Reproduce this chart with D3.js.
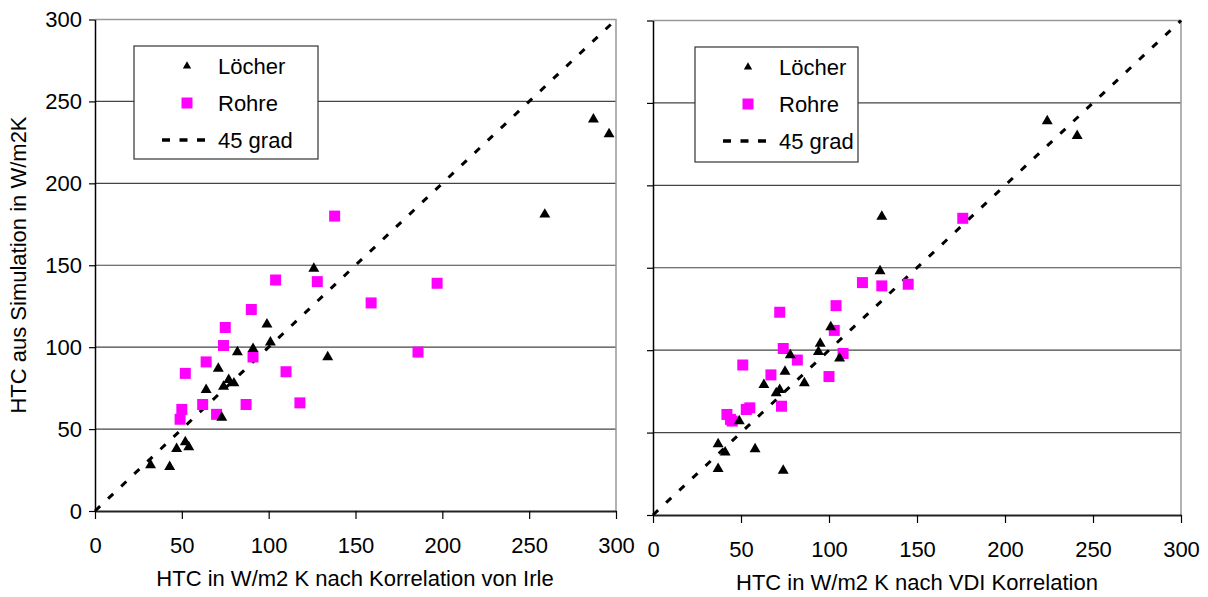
<!DOCTYPE html>
<html>
<head>
<meta charset="utf-8">
<script src="https://cdn.jsdelivr.net/npm/d3@7"></script>
<style>
  body { margin: 0; background: #fff; }
  svg { display: block; }
  text { font-family: "Liberation Sans", Arial, sans-serif; fill: #000; }
</style>
</head>
<body>
<div class="chart-wrapper"></div>
<script>
// values: [x, y]
const irleLoecher = [
  [126, 148], [99, 114], [101, 103], [82, 97], [91, 99], [134, 94],
  [71, 87], [77, 80], [80, 78], [74, 76], [64, 74], [73, 57],
  [52, 42], [54, 39], [47, 38], [32, 28], [43, 27],
  [259, 181], [287, 239], [296, 230]
]
const irleRohre = [
  [138, 180], [104, 141], [128, 140], [159, 127], [90, 123], [75, 112],
  [74, 101], [91, 94], [64, 91], [52, 84], [110, 85], [62, 65],
  [87, 65], [118, 66], [70, 59], [50, 62], [49, 56], [197, 139], [186, 97]
]
const vdiLoecher = [
  [130, 181], [129, 148], [101, 114], [95, 104], [94, 99], [78, 97],
  [106, 95], [75, 87], [63, 79], [86, 80], [72, 76], [70, 74],
  [49, 57], [37, 43], [41, 38], [58, 40], [37, 28], [74, 27],
  [224, 239], [241, 230]
]
const vdiRohre = [
  [119, 141], [130, 139], [145, 140], [104, 127], [72, 123], [103, 112],
  [74, 101], [108, 98], [82, 94], [51, 91], [67, 85], [100, 84],
  [73, 66], [55, 65], [53, 64], [42, 61], [45, 57], [176, 180], [44, 58]
]
const ticks = [0, 50, 100, 150, 200, 250, 300]
const legendItems = ['Löcher', 'Rohre', '45 grad']

var width = 1208,
    height = 597,
    fontSize = 22;

var svg = d3.select('.chart-wrapper')
  .append('svg')
  .attr('width', width)
  .attr('height', height)

const triangle = d3.symbol(d3.symbolTriangle, 52)
const square = d3.symbol(d3.symbolSquare, 121)

const drawPanel = (p) => {

  const x = d3.scaleLinear().domain([0, 300]).range([p.left, p.right])
  const y = d3.scaleLinear().domain([0, 300]).range([p.bottom, p.top])

  const g = svg.append('g')

  // horizontal grid
  g.selectAll('.grid')
    .data(ticks.slice(1, -1))
    .enter()
    .append('line')
    .attr('x1', p.left).attr('x2', p.right)
    .attr('y1', d => y(d)).attr('y2', d => y(d))
    .attr('stroke', '#444')
    .attr('stroke-width', 1.2)

  // grey frame top / right
  g.append('path')
    .attr('d', `M${p.left},${p.top}H${p.right}V${p.bottom}`)
    .attr('fill', 'none')
    .attr('stroke', '#999')
    .attr('stroke-width', 1.5)

  // y axis
  const yAxis = g.append('g')
    .attr('transform', `translate(${p.left},0)`)
    .call(d3.axisLeft(y).tickValues(ticks).tickSize(6).tickSizeOuter(0)
      .tickFormat(p.yLabels ? d3.format('d') : ''))
  yAxis.select('.domain').attr('stroke', '#000').attr('stroke-width', 1.5)
  yAxis.selectAll('.tick line').attr('stroke', '#000').attr('stroke-width', 1.2)
  yAxis.selectAll('.tick text')
    .attr('x', -13)
    .style('font-size', fontSize + 'px')
    .style('font-family', '"Liberation Sans", Arial, sans-serif')

  // x axis
  const xAxis = g.append('g')
    .attr('transform', `translate(0,${p.bottom})`)
    .call(d3.axisBottom(x).tickValues(ticks).tickSize(8).tickSizeOuter(0))
  xAxis.select('.domain').attr('stroke', '#222').attr('stroke-width', 2)
  xAxis.selectAll('.tick line').attr('stroke', '#000').attr('stroke-width', 1.2)
  xAxis.selectAll('.tick text')
    .attr('y', 26)
    .style('font-size', fontSize + 'px')
    .style('font-family', '"Liberation Sans", Arial, sans-serif')

  // 45 grad line
  g.append('line')
    .attr('x1', x(0)).attr('y1', y(0))
    .attr('x2', x(300)).attr('y2', y(300))
    .attr('stroke', '#000')
    .attr('stroke-width', 3)
    .attr('stroke-dasharray', '7,11')

  g.selectAll('.rohr')
    .data(p.rohre)
    .enter()
    .append('path')
    .attr('d', square)
    .attr('transform', d => `translate(${x(d[0])},${y(d[1])})`)
    .attr('fill', '#ff00ff')

  g.selectAll('.loch')
    .data(p.loecher)
    .enter()
    .append('path')
    .attr('d', triangle)
    .attr('transform', d => `translate(${x(d[0])},${y(d[1])})`)
    .attr('fill', '#000')

  // legend
  const lg = g.append('g')
    .attr('transform', `translate(${p.legend[0]},${p.legend[1]})`)
  lg.append('rect')
    .attr('width', p.legend[2]).attr('height', p.legend[3])
    .attr('fill', '#fff')
    .attr('stroke', '#333')
    .attr('stroke-width', 1.2)

  const rows = lg.selectAll('.row')
    .data(legendItems)
    .enter()
    .append('g')
    .attr('transform', (d, i) => `translate(0,${20 + i * 37})`)

  rows.filter((d, i) => i == 0).append('path')
    .attr('d', d3.symbol(d3.symbolTriangle, 30))
    .attr('transform', 'translate(53,0)')
  rows.filter((d, i) => i == 1).append('path')
    .attr('d', square)
    .attr('transform', 'translate(53,0)')
    .attr('fill', '#ff00ff')
  rows.filter((d, i) => i == 2).append('line')
    .attr('x1', 28).attr('x2', 72)
    .attr('stroke', '#000')
    .attr('stroke-width', 3.5)
    .attr('stroke-dasharray', '8,9.5')

  rows.append('text')
    .attr('x', 84)
    .attr('dy', '0.36em')
    .style('font-size', fontSize + 'px')
    .text(d => d)

  // x title
  g.append('text')
    .attr('x', p.titleX)
    .attr('y', p.titleY)
    .attr('text-anchor', 'middle')
    .style('font-size', fontSize + 'px')
    .text(p.title)
}

drawPanel({
  left: 95, right: 616, top: 19.5, bottom: 511,
  yLabels: true,
  loecher: irleLoecher, rohre: irleRohre,
  legend: [134, 46, 184, 113],
  title: 'HTC in W/m2 K nach Korrelation von Irle', titleX: 355, titleY: 586
})

drawPanel({
  left: 653, right: 1181, top: 20.5, bottom: 515,
  yLabels: false,
  loecher: vdiLoecher, rohre: vdiRohre,
  legend: [695, 47, 163, 115],
  title: 'HTC in W/m2 K nach VDI Korrelation', titleX: 917, titleY: 590
})

svg.append('text')
  .attr('transform', 'translate(26,265) rotate(-90)')
  .attr('text-anchor', 'middle')
  .style('font-size', fontSize + 'px')
  .text('HTC aus Simulation in W/m2K')
</script>
</body>
</html>
